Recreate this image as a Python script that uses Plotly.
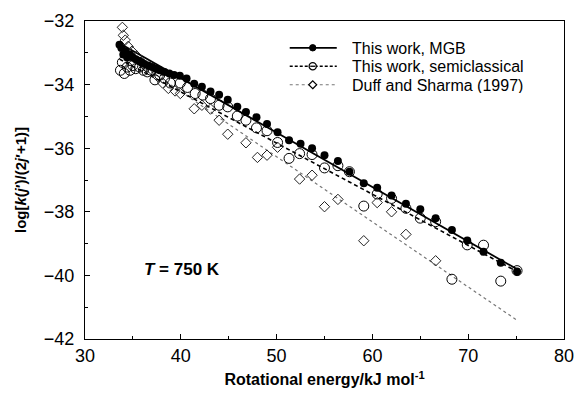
import plotly.graph_objects as go

# ---- data ----
mgb_E = [33.6, 33.8, 34.0, 34.2, 34.4, 34.7, 35.0, 35.3, 35.6, 35.9, 36.2, 36.6, 37.0, 37.4, 37.8,
         38.3, 38.8, 39.3, 39.9, 40.6, 41.4, 42.2, 43.1, 44.0, 44.9, 45.9, 46.8, 47.9, 49.0, 50.1,
         51.3, 52.5, 53.7, 55.0, 56.4, 57.6, 59.1, 60.5, 62.0, 63.5, 65.0, 66.6, 68.3, 69.9, 71.6,
         73.4, 75.1]
mgb_y = [-32.75, -32.85, -33.05, -32.95, -33.15, -33.05, -33.15, -33.2, -33.25, -33.3, -33.35, -33.4,
         -33.45, -33.5, -33.55, -33.6, -33.65, -33.7, -33.72, -33.81, -33.97, -34.07, -34.22, -34.32,
         -34.48, -34.7, -34.86, -35.03, -35.24, -35.5, -35.75, -35.86, -36.0, -36.22, -36.4, -36.74,
         -37.1, -37.24, -37.49, -37.75, -37.92, -38.2, -38.57, -38.9, -39.26, -39.6, -39.88]

semi_E = [33.7, 33.9, 34.1, 34.4, 34.7, 35.0, 35.3, 35.7, 36.1, 36.5, 36.9, 37.3, 37.8, 38.3, 38.9,
          39.95, 40.7, 41.5, 42.3, 43.1, 44.0, 44.9, 45.9, 46.8, 47.9, 49.0, 50.1, 51.3, 52.4, 53.7,
          55.0, 56.4, 57.6, 59.1, 60.5, 62.0, 63.5, 65.0, 66.6, 68.3, 69.9, 71.6, 73.4, 75.1]
semi_y = [-33.55, -33.3, -33.65, -33.45, -33.55, -33.4, -33.5, -33.45, -33.55, -33.6, -33.55, -33.85,
          -33.7, -33.8, -33.95, -33.95, -34.09, -34.28, -34.33, -34.44, -34.65, -34.7, -34.99, -35.12,
          -35.36, -35.45, -35.82, -36.32, -36.17, -36.2, -36.62, -36.55, -36.74, -37.82, -37.44, -37.58,
          -37.89, -38.2, -38.31, -40.12, -39.04, -39.05, -40.18, -39.85]

duff_E = [33.9, 34.0, 34.2, 34.5, 34.9, 35.4, 35.9, 36.4, 37.0, 37.6, 38.1, 38.7, 39.4, 39.95, 41.4,
          42.2, 43.1, 44.0, 44.9, 46.8, 48.0, 49.0, 50.1, 52.4, 53.7, 55.0, 56.4, 59.1, 60.5, 62.0,
          63.5, 66.6]
duff_y = [-32.2, -32.45, -32.6, -32.8, -32.95, -33.1, -33.3, -33.45, -33.55, -33.75, -33.95, -34.12,
          -34.2, -34.28, -34.76, -34.65, -34.77, -35.12, -35.56, -35.83, -36.29, -36.22, -35.97, -36.97,
          -36.85, -37.84, -37.61, -38.91, -37.71, -38.0, -38.71, -39.54]

# fitted lines (end points)
mgb_fit_E = [33.6, 75.3]
mgb_fit_y = [-32.7, -39.84]
semi_fit_E = [33.6, 75.3]
semi_fit_y = [-33.2, -39.91]
duff_fit_E = [33.8, 75.2]
duff_fit_y = [-32.95, -41.43]

names = ["This work, MGB", "This work, semiclassical", "Duff and Sharma (1997)"]

FONT = "Liberation Sans, Arial, Helvetica, sans-serif"

fig = go.Figure()

# fit lines
fig.add_trace(go.Scatter(x=duff_fit_E, y=duff_fit_y, mode="lines", showlegend=False,
                         line=dict(color="#777777", width=1.2, dash="dot")))
fig.add_trace(go.Scatter(x=semi_fit_E, y=semi_fit_y, mode="lines", showlegend=False,
                         line=dict(color="black", width=1.6, dash="4px,3px")))
fig.add_trace(go.Scatter(x=mgb_fit_E, y=mgb_fit_y, mode="lines", showlegend=False,
                         line=dict(color="black", width=1.8)))

# data markers
fig.add_trace(go.Scatter(x=duff_E, y=duff_y, mode="markers", showlegend=False,
                         marker=dict(symbol="diamond-open", size=8, color="#222222",
                                     line=dict(width=1))))
fig.add_trace(go.Scatter(x=semi_E, y=semi_y, mode="markers", showlegend=False,
                         marker=dict(symbol="circle-open", size=10, color="black",
                                     line=dict(width=1))))
fig.add_trace(go.Scatter(x=mgb_E, y=mgb_y, mode="markers", showlegend=False,
                         marker=dict(symbol="circle", size=8, color="black")))

# ---- manual legend (paper coordinates) ----
leg_x0, leg_x1, leg_xm, leg_tx = 0.4274, 0.5256, 0.4754, 0.5528
leg_rows = [0.9158, 0.8577, 0.7996]
leg_lines = [dict(color="black", width=1.8, dash="solid"),
             dict(color="black", width=1.4, dash="3px,2px"),
             dict(color="#777777", width=1.2, dash="dot")]
for name, yr, ln in zip(names, leg_rows, leg_lines):
    fig.add_shape(type="line", xref="paper", yref="paper", x0=leg_x0, x1=leg_x1, y0=yr, y1=yr,
                  line=ln, layer="above")
    fig.add_annotation(x=leg_tx, y=yr, xref="paper", yref="paper", xanchor="left", yanchor="middle",
                       showarrow=False, text=name, height=16, valign="middle",
                       font=dict(size=16, color="black", family=FONT))
# legend symbols
fig.add_shape(type="circle", xref="paper", yref="paper", xsizemode="pixel", ysizemode="pixel",
              xanchor=leg_xm, yanchor=leg_rows[0], x0=-3.2, x1=3.2, y0=-3.2, y1=3.2,
              fillcolor="black", line=dict(color="black", width=1), layer="above")
fig.add_shape(type="circle", xref="paper", yref="paper", xsizemode="pixel", ysizemode="pixel",
              xanchor=leg_xm, yanchor=leg_rows[1], x0=-3.6, x1=3.6, y0=-3.6, y1=3.6,
              fillcolor="white", line=dict(color="black", width=1.3), layer="above")
fig.add_shape(type="line", xref="paper", yref="paper", xsizemode="pixel", ysizemode="pixel",
              xanchor=leg_xm, yanchor=leg_rows[1], x0=-2.5, x1=2.5, y0=0, y1=0,
              line=dict(color="black", width=1.3), layer="above")
fig.add_shape(type="path", xref="paper", yref="paper", xsizemode="pixel", ysizemode="pixel",
              xanchor=leg_xm, yanchor=leg_rows[2], path="M0,-4L4,0L0,4L-4,0Z",
              fillcolor="white", line=dict(color="black", width=1.2), layer="above")

fig.add_annotation(x=40.1, y=-39.8, xref="x", yref="y", showarrow=False,
                   text="<b><i>T</i> = 750 K</b>", font=dict(size=17, color="black", family=FONT))

axis_common = dict(showline=True, linecolor="black", linewidth=1.3, mirror=True,
                   ticks="inside", ticklen=5, tickwidth=1, tickcolor="black",
                   showgrid=False, zeroline=False, automargin=False,
                   tickfont=dict(size=18, color="black", family=FONT))

fig.update_xaxes(range=[30, 80], dtick=10, tick0=30,
                 minor=dict(ticks="inside", ticklen=3, dtick=5, tickcolor="black"),
                 title=dict(text="<b>Rotational energy/kJ mol<sup>-1</sup></b>",
                            font=dict(size=16, color="black", family=FONT), standoff=9),
                 **axis_common)
fig.update_yaxes(range=[-42, -32], dtick=2, tick0=-42, ticklabelstandoff=6,
                 minor=dict(ticks="inside", ticklen=3, dtick=1, tickcolor="black"),
                 title=dict(text="<b>log[<i>k</i>(<i>j</i>′)/(2<i>j</i>′+1)]</b>",
                            font=dict(size=15, color="black", family=FONT), standoff=13),
                 **axis_common)

fig.update_layout(
    width=579, height=394,
    margin=dict(l=85, r=15, t=21, b=55),
    paper_bgcolor="white", plot_bgcolor="white",
    font=dict(family=FONT, color="black"),
    showlegend=False,
)

fig.write_html("out.html")
